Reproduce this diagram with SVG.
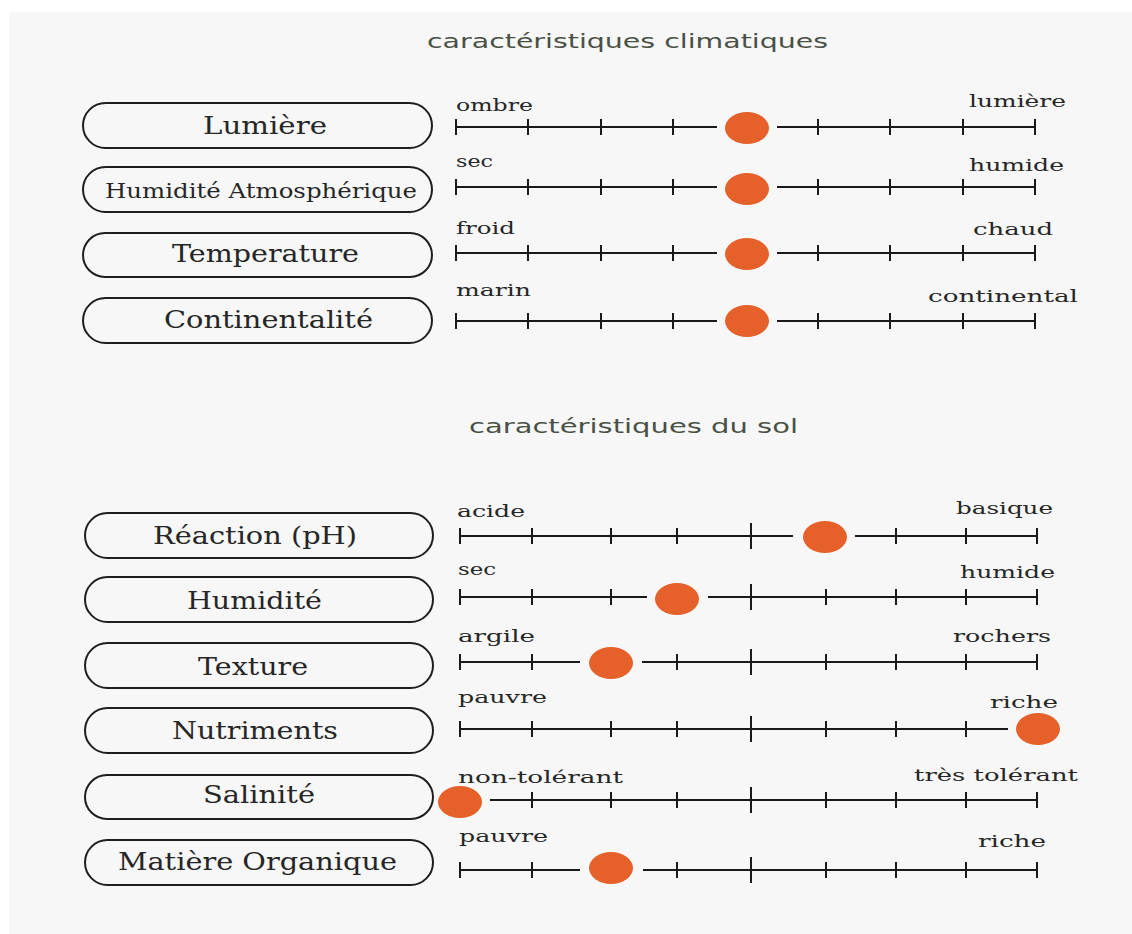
<svg xmlns="http://www.w3.org/2000/svg" width="1132" height="934" viewBox="0 0 1132 934">
<style>
.bg{fill:#f7f7f7}
.box{fill:none;stroke:#1e1e1e;stroke-width:2}
.bl{font-family:"DejaVu Serif","Liberation Serif",serif;font-size:24px;fill:#262626}
.sl{font-family:"DejaVu Serif","Liberation Serif",serif;font-size:16px;fill:#262626}
.ti{font-family:"DejaVu Sans","Liberation Sans",sans-serif;font-size:20px;fill:#4a5045}
.ln{stroke:#1a1a1a;stroke-width:2;fill:none}
.dot{fill:#e6602a}
</style>
<rect x="0" y="0" width="1132" height="934" fill="#ffffff"/>
<rect class="bg" x="9" y="12" width="1123" height="922"/>
<text class="ti" x="427" y="48" textLength="401" lengthAdjust="spacingAndGlyphs">caractéristiques climatiques</text>
<text class="ti" x="469" y="433" textLength="329" lengthAdjust="spacingAndGlyphs">caractéristiques du sol</text>

<g id="node-lumiere"><rect class="box" x="83" y="103" width="349" height="45" rx="22.5"/><text class="bl" x="203" y="134" textLength="124" lengthAdjust="spacingAndGlyphs">Lumière</text></g>
<g id="node-humidite-atm"><rect class="box" x="83" y="167" width="349" height="45" rx="22.5"/><text class="bl" x="105" y="198" style="font-size:20px" textLength="312" lengthAdjust="spacingAndGlyphs">Humidité Atmosphérique</text></g>
<g id="node-temperature"><rect class="box" x="83" y="233" width="349" height="44" rx="22"/><text class="bl" x="172" y="262" textLength="187" lengthAdjust="spacingAndGlyphs">Temperature</text></g>
<g id="node-continentalite"><rect class="box" x="83" y="298" width="349" height="45" rx="22.5"/><text class="bl" x="164" y="328" textLength="209" lengthAdjust="spacingAndGlyphs">Continentalité</text></g>

<g id="node-reaction"><rect class="box" x="85" y="513" width="348" height="45" rx="22.5"/><text class="bl" x="153" y="544" textLength="204" lengthAdjust="spacingAndGlyphs">Réaction (pH)</text></g>
<g id="node-humidite"><rect class="box" x="85" y="577" width="348" height="45" rx="22.5"/><text class="bl" x="187" y="609" textLength="135" lengthAdjust="spacingAndGlyphs">Humidité</text></g>
<g id="node-texture"><rect class="box" x="85" y="643" width="348" height="45" rx="22.5"/><text class="bl" x="198" y="675" textLength="110" lengthAdjust="spacingAndGlyphs">Texture</text></g>
<g id="node-nutriments"><rect class="box" x="85" y="708" width="348" height="45" rx="22.5"/><text class="bl" x="172" y="739" textLength="166" lengthAdjust="spacingAndGlyphs">Nutriments</text></g>
<g id="node-salinite"><rect class="box" x="85" y="775" width="348" height="44" rx="22"/><text class="bl" x="203" y="803" textLength="112" lengthAdjust="spacingAndGlyphs">Salinité</text></g>
<g id="node-matiere"><rect class="box" x="85" y="840" width="348" height="45" rx="22.5"/><text class="bl" x="118" y="870" textLength="279" lengthAdjust="spacingAndGlyphs">Matière Organique</text></g>

<g id="connectors">
<!-- top scales -->
<g id="scale-lumiere">
<path class="ln" d="M456 127H717M777 127H1035M456 119V135M528 119V135M601 119V135M673 119V135M818 119V135M890 119V135M963 119V135M1035 119V135"/>
<ellipse class="dot" cx="747" cy="128" rx="22" ry="16"/>
</g>
<g id="scale-humidite-atm">
<path class="ln" d="M456 187H717M777 187H1035M456 179V195M528 179V195M601 179V195M673 179V195M818 179V195M890 179V195M963 179V195M1035 179V195"/>
<ellipse class="dot" cx="747" cy="189" rx="22" ry="16"/>
</g>
<g id="scale-temperature">
<path class="ln" d="M456 253H717M777 253H1035M456 245V261M528 245V261M601 245V261M673 245V261M818 245V261M890 245V261M963 245V261M1035 245V261"/>
<ellipse class="dot" cx="747" cy="254" rx="22" ry="16"/>
</g>
<g id="scale-continentalite">
<path class="ln" d="M456 321H717M777 321H1035M456 313V329M528 313V329M601 313V329M673 313V329M818 313V329M890 313V329M963 313V329M1035 313V329"/>
<ellipse class="dot" cx="747" cy="321" rx="22" ry="16"/>
</g>
<!-- bottom scales -->
<g id="scale-reaction">
<path class="ln" d="M460 536H793M855 536H1037M460 528V544M532 528V544M611 528V544M677 528V544M751 523V549M896 528V544M966 528V544M1037 528V544"/>
<ellipse class="dot" cx="825" cy="537" rx="22" ry="16"/>
</g>
<g id="scale-humidite">
<path class="ln" d="M460 597H647M708 597H1037M460 589V605M532 589V605M611 589V605M751 584V610M826 589V605M896 589V605M966 589V605M1037 589V605"/>
<ellipse class="dot" cx="677" cy="599" rx="22" ry="16"/>
</g>
<g id="scale-texture">
<path class="ln" d="M460 662H580M642 662H1037M460 654V670M532 654V670M677 654V670M751 649V675M826 654V670M896 654V670M966 654V670M1037 654V670"/>
<ellipse class="dot" cx="611" cy="663" rx="22" ry="16"/>
</g>
<g id="scale-nutriments">
<path class="ln" d="M460 729H1008M460 721V737M532 721V737M611 721V737M677 721V737M751 716V742M826 721V737M896 721V737M966 721V737"/>
<ellipse class="dot" cx="1038" cy="729" rx="22" ry="16"/>
</g>
<g id="scale-salinite">
<path class="ln" d="M490 800H1037M532 792V808M611 792V808M677 792V808M751 787V813M826 792V808M896 792V808M966 792V808M1037 792V808"/>
<ellipse class="dot" cx="460" cy="802" rx="22" ry="16"/>
</g>
<g id="scale-matiere">
<path class="ln" d="M460 870H580M643 870H1037M460 862V878M532 862V878M677 862V878M751 857V883M826 862V878M896 862V878M966 862V878M1037 862V878"/>
<ellipse class="dot" cx="611" cy="868" rx="22" ry="16"/>
</g>
</g>

<g id="scale-labels">
<text class="sl" x="456" y="111" textLength="77" lengthAdjust="spacingAndGlyphs">ombre</text>
<text class="sl" x="969" y="107" textLength="97" lengthAdjust="spacingAndGlyphs">lumière</text>
<text class="sl" x="456" y="167" textLength="37" lengthAdjust="spacingAndGlyphs">sec</text>
<text class="sl" x="969" y="171" textLength="95" lengthAdjust="spacingAndGlyphs">humide</text>
<text class="sl" x="456" y="234" textLength="59" lengthAdjust="spacingAndGlyphs">froid</text>
<text class="sl" x="973" y="235" textLength="80" lengthAdjust="spacingAndGlyphs">chaud</text>
<text class="sl" x="456" y="296" textLength="75" lengthAdjust="spacingAndGlyphs">marin</text>
<text class="sl" x="928" y="302" textLength="150" lengthAdjust="spacingAndGlyphs">continental</text>

<text class="sl" x="457" y="517" textLength="68" lengthAdjust="spacingAndGlyphs">acide</text>
<text class="sl" x="956" y="514" textLength="97" lengthAdjust="spacingAndGlyphs">basique</text>
<text class="sl" x="458" y="575" textLength="38" lengthAdjust="spacingAndGlyphs">sec</text>
<text class="sl" x="960" y="578" textLength="95" lengthAdjust="spacingAndGlyphs">humide</text>
<text class="sl" x="458" y="642" textLength="77" lengthAdjust="spacingAndGlyphs">argile</text>
<text class="sl" x="953" y="642" textLength="98" lengthAdjust="spacingAndGlyphs">rochers</text>
<text class="sl" x="458" y="703" textLength="89" lengthAdjust="spacingAndGlyphs">pauvre</text>
<text class="sl" x="990" y="708" textLength="68" lengthAdjust="spacingAndGlyphs">riche</text>
<text class="sl" x="458" y="783" textLength="165" lengthAdjust="spacingAndGlyphs">non-tolérant</text>
<text class="sl" x="914" y="781" textLength="164" lengthAdjust="spacingAndGlyphs">très tolérant</text>
<text class="sl" x="459" y="842" textLength="89" lengthAdjust="spacingAndGlyphs">pauvre</text>
<text class="sl" x="978" y="847" textLength="68" lengthAdjust="spacingAndGlyphs">riche</text>
</g>
</svg>
